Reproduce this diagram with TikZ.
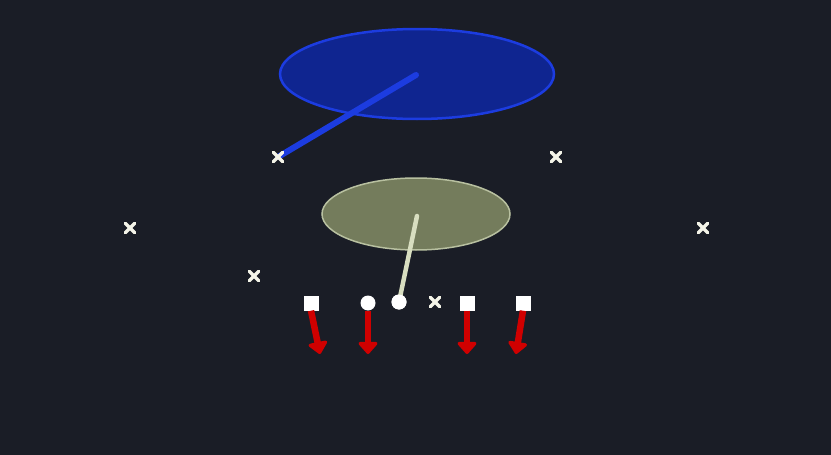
\documentclass[tikz,border=0pt]{standalone}
\usetikzlibrary{arrows.meta,shapes.geometric}
\definecolor{bg}{HTML}{1A1D26}
\definecolor{zonefill}{HTML}{0F2590}
\definecolor{zoneedge}{HTML}{1C3CE0}
\definecolor{olivefill}{HTML}{747C5C}
\definecolor{oliveedge}{HTML}{B8C0A0}
\definecolor{cream}{HTML}{D8DEC0}
\definecolor{routered}{HTML}{D00000}
\definecolor{xwhite}{HTML}{F4F4E8}
\tikzset{
  sqplayer/.style={draw=none, fill=white, minimum size=15pt, inner sep=0pt},
  circplayer/.style={circle, draw=none, fill=white, minimum size=15pt, inner sep=0pt},
  route/.style={draw=routered, line width=6.5pt, -{Triangle[length=13pt,width=22pt,round]}},
  defx/.pic={\draw[xwhite, line width=3.2pt, line cap=round] (-4.8,-4.8) -- (4.8,4.8) (-4.8,4.8) -- (4.8,-4.8);}
}
\begin{document}
\begin{tikzpicture}[x=1pt,y=-1pt]
\fill[bg] (0,0) rectangle (831,455);
\useasboundingbox (0,0) rectangle (831,455);
% zones
\node[ellipse, minimum width=274pt, minimum height=90pt, fill=zonefill, draw=zoneedge, line width=2.5pt, inner sep=0pt] (zone) at (417,74) {};
\node[ellipse, minimum width=188pt, minimum height=72pt, fill=olivefill, draw=oliveedge, line width=1.5pt, inner sep=0pt] (flat) at (416,214) {};
\coordinate (zc) at (416,75);
\coordinate (fc) at (417,216);
% defenders
\coordinate (d1) at (278,157);
\coordinate (d2) at (556,157);
\coordinate (d3) at (130,228);
\coordinate (d4) at (703,228);
\coordinate (d5) at (254,276);
\coordinate (d6) at (435,302);
\draw[zoneedge, line width=6pt, line cap=round] (zc) -- (d1);
% offense
\node[sqplayer] (o1) at (311,303) {};
\node[circplayer] (o2) at (368,303) {};
\node[circplayer] (o3) at (399,302) {};
\node[sqplayer] (o4) at (467,303) {};
\node[sqplayer] (o5) at (523,303) {};
\draw[cream, line width=4.5pt, line cap=round] (fc) -- (o3.center);
\node[circplayer] at (399,302) {};
\foreach \d in {d1,d2,d3,d4,d5,d6} \pic at (\d) {defx};
% routes
\coordinate (e1) at (320,354);
\coordinate (e2) at (368,354);
\coordinate (e4) at (467,354);
\coordinate (e5) at (516,354);
\draw[route] (o1.south) -- (e1);
\draw[route] (o2.south) -- (e2);
\draw[route] (o4.south) -- (e4);
\draw[route] (o5.south) -- (e5);
\end{tikzpicture}
\end{document}
